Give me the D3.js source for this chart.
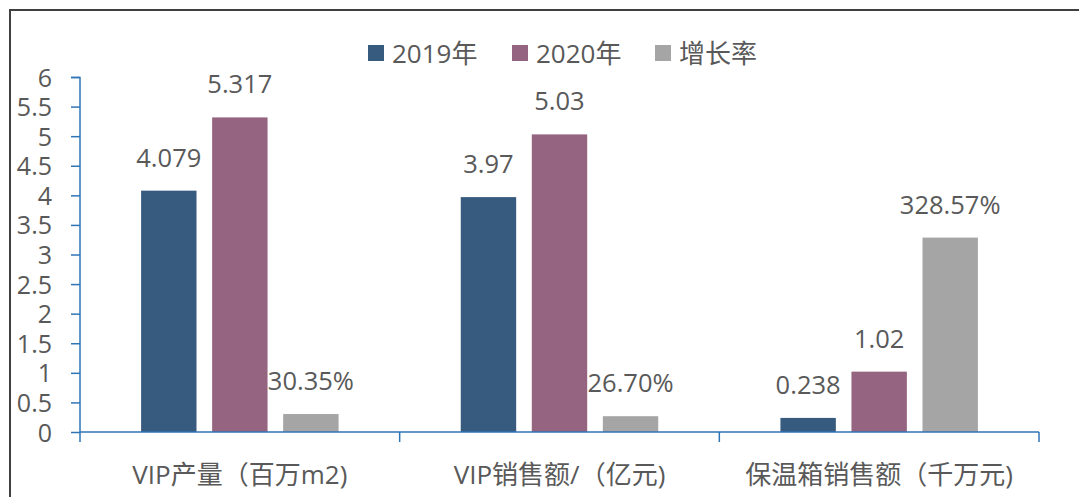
<!DOCTYPE html>
<html>
<head>
<meta charset="utf-8">
<script src="https://cdn.jsdelivr.net/npm/d3@7"></script>
<style>
  body { margin: 0; background: #fff; }
  svg text { font-family: "Open Sans", "Noto Sans CJK SC", sans-serif; fill: #595959; }
</style>
</head>
<body>
<div id="chart"></div>
<script>
// Chart data
const categories = ["VIP产量（百万m2)", "VIP销售额/（亿元)", "保温箱销售额（千万元)"];
const seriesNames = ["2019年", "2020年", "增长率"];
const values2019 = [4.079, 3.97, 0.238];
const values2020 = [5.317, 5.03, 1.02];
const growthRate = [0.3035, 0.267, 3.2857];
const labels2019 = ["4.079", "3.97", "0.238"];
const labels2020 = ["5.317", "5.03", "1.02"];
const labelsGrowth = ["30.35%", "26.70%", "328.57%"];
const yTicks = [0, 0.5, 1, 1.5, 2, 2.5, 3, 3.5, 4, 4.5, 5, 5.5, 6];

const colors = ["#375A7F", "#956480", "#A5A5A5"];

const width = 1079,
    height = 497;

const svg = d3.select("#chart")
    .append("svg")
    .attr("width", width)
    .attr("height", height);

// outer frame (only top and left visible in picture)
svg.append("path")
    .attr("d", "M10,497 L10,10 L1079,10")
    .attr("fill", "none")
    .attr("stroke", "#404040")
    .attr("stroke-width", 2);

// scales
const x0 = d3.scaleBand()
    .domain(categories)
    .range([80, 1039]);

const x1 = d3.scaleBand()
    .domain(seriesNames)
    .range([0, x0.bandwidth()])
    .paddingInner(0.22)
    .paddingOuter(0.86);

const y = d3.scaleLinear()
    .domain([0, 6])
    .range([432, 77]);

// rows: one per category
const rows = categories.map((c, i) => ({
    cat: c,
    items: [
        { s: seriesNames[0], v: values2019[i], label: labels2019[i] },
        { s: seriesNames[1], v: values2020[i], label: labels2020[i] },
        { s: seriesNames[2], v: growthRate[i], label: labelsGrowth[i] }
    ]
}));

const groups = svg.selectAll(".grp")
    .data(rows)
    .enter().append("g")
    .attr("class", "grp")
    .attr("transform", d => `translate(${x0(d.cat)},0)`);

// value labels first (bars cover them, like the original)
groups.selectAll(".lbl")
    .data(d => d.items)
    .enter().append("text")
    .attr("class", "lbl")
    .attr("x", d => x1(d.s) + x1.bandwidth() / 2)
    .attr("y", d => y(d.v) - 24)
    .attr("text-anchor", "middle")
    .style("font-size", "25.5px")
    .text(d => d.label);

groups.selectAll(".bar")
    .data(d => d.items)
    .enter().append("rect")
    .attr("class", "bar")
    .attr("x", d => x1(d.s))
    .attr("y", d => y(d.v))
    .attr("width", x1.bandwidth())
    .attr("height", d => y(0) - y(d.v))
    .attr("fill", (d, i) => colors[i]);

// y axis
const yAxis = svg.append("g")
    .attr("transform", "translate(80,0)")
    .call(d3.axisLeft(y).tickValues(yTicks).tickSize(9).tickPadding(19)
        .tickFormat(d => String(d)));
yAxis.selectAll("path, line").attr("stroke", "#2E75B6").attr("stroke-width", 1.5);
yAxis.select(".domain").attr("d", "M-9,77.5H0V432");
yAxis.selectAll("text").style("font-size", "25px").attr("fill", "#595959").attr("dy", "0.36em");

// x axis
const xAxis = svg.append("g");
xAxis.append("line")
    .attr("x1", 80).attr("x2", 1039)
    .attr("y1", y(0)).attr("y2", y(0))
    .attr("stroke", "#2E75B6").attr("stroke-width", 1.5);
const bounds = categories.map(c => x0(c)).concat([x0.range()[1]]);
xAxis.selectAll(".xt")
    .data(bounds)
    .enter().append("line")
    .attr("x1", d => d).attr("x2", d => d)
    .attr("y1", y(0)).attr("y2", y(0) + 10)
    .attr("stroke", "#2E75B6").attr("stroke-width", 1.5);
xAxis.selectAll(".xl")
    .data(categories)
    .enter().append("text")
    .attr("x", d => x0(d) + x0.bandwidth() / 2)
    .attr("y", 484)
    .attr("text-anchor", "middle")
    .style("font-size", "26px")
    .text(d => d);

// legend
const legendX = [368, 512, 655];
const legend = svg.selectAll(".leg")
    .data(seriesNames)
    .enter().append("g")
    .attr("class", "leg")
    .attr("transform", (d, i) => `translate(${legendX[i]},45)`);
legend.append("rect")
    .attr("width", 16).attr("height", 16)
    .attr("fill", (d, i) => colors[i]);
legend.append("text")
    .attr("x", 24)
    .attr("y", 18)
    .style("font-size", "26px")
    .text(d => d);
</script>
</body>
</html>
